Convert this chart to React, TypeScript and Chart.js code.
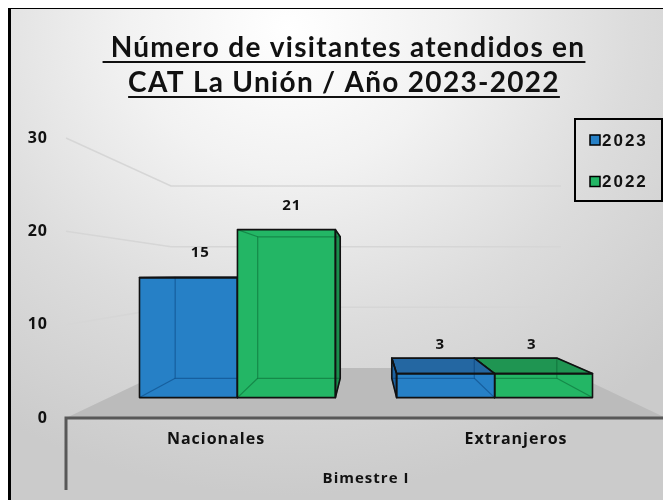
import React, { useEffect, useRef } from "react";
import { Chart, registerables } from "chart.js";

Chart.register(...registerables);

// ---- data ----
const categories = ["Nacionales", "Extranjeros"];
const groupLabel = "Bimestre I";
const seriesNames = ["2023", "2022"];
const values2023 = [15, 3];
const values2022 = [21, 3];
const yMin = 0;
const yMax = 30;
const yStep = 10;
const titleLines = [" Número de visitantes atendidos en", "CAT La Unión / Año 2023-2022"];

// ---- style ----
const FRONT = ["#2680c6", "#23b665"];
const TOP = ["#2467a2", "#1f9552"];
const SIDE = ["#1d62a0", "#1b8c4c"];
const INNER = ["rgba(5,55,110,0.45)", "rgba(5,85,40,0.45)"];
const TITLE_FONT = "Lato, 'Open Sans', sans-serif";
const GEO = "'Open Sans', Lato, sans-serif";
const EYE = 15.3; // eye level, in axis units
const BACK = 0.65; // depth scale of back wall
const BAR_FRONT = 0.857;
const BAR_BACK = 0.722;
const LABEL_DEPTH_X = 0.8;
const LABEL_DEPTH_Y = 0.827;

type Pt = [number, number];

const scene3d = {
  id: "scene3d",
  beforeDraw(chart: any) {
    chart.ctx.letterSpacing = "1px";
  },
  beforeDatasetsDraw(chart: any) {
    const { ctx, chartArea: ca, scales } = chart;
    const y = scales.y;
    const vx = (ca.left + ca.right) / 2;
    const vy = y.getPixelForValue(EYE);
    const P = (px: number, py: number, s: number): Pt => [vx + (px - vx) * s, vy + (py - vy) * s];
    const y0 = y.getPixelForValue(0);
    ctx.save();
    // walls gridlines
    ctx.strokeStyle = "#d6d6d6";
    ctx.lineWidth = 1.5;
    for (const t of y.ticks) {
      if (t.value <= 0) continue;
      const py = y.getPixelForValue(t.value);
      const a = P(ca.left, py, BACK);
      const b = P(ca.right, py, BACK);
      ctx.beginPath();
      ctx.moveTo(ca.left, py);
      ctx.lineTo(a[0], a[1]);
      ctx.lineTo(b[0], b[1]);
      ctx.stroke();
    }
    // floor
    const bl = P(ca.left, y0, BACK);
    const br = P(ca.right, y0, BACK);
    ctx.fillStyle = "#bbbbbb";
    ctx.beginPath();
    ctx.moveTo(ca.left, y0);
    ctx.lineTo(ca.right, y0);
    ctx.lineTo(br[0], br[1]);
    ctx.lineTo(bl[0], bl[1]);
    ctx.closePath();
    ctx.fill();
    // axis line and category frame
    ctx.strokeStyle = "#585858";
    ctx.lineWidth = 3;
    ctx.beginPath();
    ctx.moveTo(ca.left, y0 + 72);
    ctx.lineTo(ca.left, y0);
    ctx.lineTo(ca.right, y0);
    ctx.lineTo(ca.right, y0 + 72);
    ctx.stroke();
    ctx.restore();
  },
  afterDatasetsDraw(chart: any) {
    const { ctx, chartArea: ca, scales } = chart;
    const y = scales.y;
    const vx = (ca.left + ca.right) / 2;
    const vy = y.getPixelForValue(EYE);
    const P = (px: number, py: number, s: number): Pt => [vx + (px - vx) * s, vy + (py - vy) * s];
    const boxes: any[] = [];
    chart.data.datasets.forEach((ds: any, di: number) => {
      const meta = chart.getDatasetMeta(di);
      meta.data.forEach((el: any, i: number) => {
        const p = el.getProps(["x", "y", "base", "width"], true);
        boxes.push({ di, i, x1: p.x - p.width / 2, x2: p.x + p.width / 2, cx: p.x, yt: p.y, yb: p.base, v: ds.data[i] });
      });
    });
    boxes.sort((a, b) => Math.abs(b.cx - vx) - Math.abs(a.cx - vx));
    const poly = (pts: Pt[]) => {
      ctx.beginPath();
      ctx.moveTo(pts[0][0], pts[0][1]);
      for (let k = 1; k < pts.length; k++) ctx.lineTo(pts[k][0], pts[k][1]);
      ctx.closePath();
    };
    ctx.save();
    for (const b of boxes) {
      const FLt = P(b.x1, b.yt, BAR_FRONT), FRt = P(b.x2, b.yt, BAR_FRONT);
      const FLb = P(b.x1, b.yb, BAR_FRONT), FRb = P(b.x2, b.yb, BAR_FRONT);
      const BLt = P(b.x1, b.yt, BAR_BACK), BRt = P(b.x2, b.yt, BAR_BACK);
      const BLb = P(b.x1, b.yb, BAR_BACK), BRb = P(b.x2, b.yb, BAR_BACK);
      const leftOfCenter = b.cx < vx;
      const side: Pt[] = leftOfCenter ? [FRt, BRt, BRb, FRb] : [FLt, BLt, BLb, FLb];
      const top: Pt[] = [FLt, FRt, BRt, BLt];
      ctx.lineJoin = "round";
      ctx.fillStyle = SIDE[b.di];
      poly(side);
      ctx.fill();
      ctx.fillStyle = TOP[b.di];
      poly(top);
      ctx.fill();
      ctx.fillStyle = FRONT[b.di];
      poly([FLt, FRt, FRb, FLb]);
      ctx.fill();
      // back edges seen through the faces
      ctx.strokeStyle = INNER[b.di];
      ctx.lineWidth = 1.2;
      poly([BLt, BRt, BRb, BLb]);
      ctx.stroke();
      ctx.beginPath();
      ctx.moveTo(FLt[0], FLt[1]); ctx.lineTo(BLt[0], BLt[1]);
      ctx.moveTo(FRt[0], FRt[1]); ctx.lineTo(BRt[0], BRt[1]);
      ctx.moveTo(FLb[0], FLb[1]); ctx.lineTo(BLb[0], BLb[1]);
      ctx.moveTo(FRb[0], FRb[1]); ctx.lineTo(BRb[0], BRb[1]);
      ctx.stroke();
      // outlines
      ctx.strokeStyle = "#111";
      ctx.lineWidth = 1.6;
      poly([FLt, FRt, FRb, FLb]);
      ctx.stroke();
      if (BLt[1] < FLt[1]) {
        poly(top);
        ctx.stroke();
      }
      poly(side);
      ctx.stroke();
    }
    // value labels
    ctx.fillStyle = "#111";
    ctx.font = `bold 15px ${GEO}`;
    ctx.letterSpacing = "1px";
    ctx.textAlign = "center";
    ctx.textBaseline = "middle";
    for (const b of boxes) {
      const lx = P(b.cx, b.yt, LABEL_DEPTH_X)[0];
      const ly = P(b.cx, b.yt, LABEL_DEPTH_Y)[1];
      ctx.fillText(String(b.v), lx, ly - 25);
    }
    ctx.restore();
  },
  afterDraw(chart: any) {
    const { ctx } = chart;
    ctx.save();
    // title
    ctx.fillStyle = "#111";
    ctx.strokeStyle = "#111";
    ctx.font = `bold 28px ${TITLE_FONT}`;
    ctx.letterSpacing = "1.3px";
    ctx.textAlign = "center";
    ctx.textBaseline = "alphabetic";
    const cx = 333;
    const baselines = [48, 83];
    titleLines.forEach((line, k) => {
      ctx.fillText(line, cx, baselines[k]);
      const w = ctx.measureText(line).width;
      ctx.lineWidth = 2;
      ctx.beginPath();
      ctx.moveTo(cx - w / 2, baselines[k] + 5);
      ctx.lineTo(cx + w / 2, baselines[k] + 5);
      ctx.stroke();
    });
    // legend
    const lx = 564, ly = 110, lw = 87, lh = 82;
    ctx.lineWidth = 2;
    ctx.strokeStyle = "#000";
    ctx.strokeRect(lx, ly, lw, lh);
    ctx.font = "bold 17px 'Liberation Sans', Arial, sans-serif";
    ctx.letterSpacing = "2px";
    ctx.textAlign = "left";
    ctx.textBaseline = "middle";
    chart.data.datasets.forEach((ds: any, k: number) => {
      const ry = ly + 21 + k * 41.5;
      ctx.fillStyle = FRONT[k];
      ctx.fillRect(lx + 15, ry - 5, 10, 10);
      ctx.lineWidth = 1.5;
      ctx.strokeStyle = "#000";
      ctx.strokeRect(lx + 15, ry - 5, 10, 10);
      ctx.fillStyle = "#111";
      ctx.fillText(ds.label, lx + 27, ry + 1);
    });
    ctx.restore();
  },
};

export default function App() {
  const ref = useRef<HTMLCanvasElement | null>(null);
  useEffect(() => {
    if (!ref.current) return;
    const chart = new Chart(ref.current, {
      type: "bar",
      data: {
        labels: categories,
        datasets: [
          { label: seriesNames[0], data: values2023, backgroundColor: "rgba(0,0,0,0)", borderWidth: 0, categoryPercentage: 0.762, barPercentage: 1 },
          { label: seriesNames[1], data: values2022, backgroundColor: "rgba(0,0,0,0)", borderWidth: 0, categoryPercentage: 0.762, barPercentage: 1 },
        ],
      },
      options: {
        responsive: false,
        animation: false,
        events: [],
        layout: { padding: { left: 11, right: 5, top: 129, bottom: 0 } },
        plugins: { legend: { display: false }, tooltip: { enabled: false }, title: { display: false } },
        scales: {
          x: {
            offset: true,
            grid: { display: false, drawTicks: false },
            border: { display: false },
            ticks: { color: "#111", padding: 12, font: { family: GEO, weight: "bold", size: 16 } },
            title: { display: true, text: groupLabel, color: "#111", padding: { top: 0, bottom: 12 }, font: { family: GEO, weight: "bold", size: 15 } },
            afterFit: (s: any) => { s.height = 82; },
          },
          y: {
            min: yMin,
            max: yMax,
            grid: { display: false, drawTicks: false },
            border: { display: false },
            ticks: { stepSize: yStep, color: "#111", padding: 18, font: { family: GEO, weight: "bold", size: 16 } },
            afterFit: (s: any) => { s.width = 44; },
          },
        },
      },
      plugins: [scene3d],
    });
    return () => chart.destroy();
  }, []);
  return (
    <div
      style={{
        marginTop: -2,
        width: 660,
        height: 491,
        borderLeft: "3px solid #000",
        borderTop: "3px solid #000",
        background: "radial-gradient(ellipse 80% 95% at 42% 4%, #ffffff 0%, #f2f2f2 30%, #dcdcdc 65%, #cbcbcb 100%)",
      }}
    >
      <canvas ref={ref} width={660} height={491} style={{ display: "block" }} />
    </div>
  );
}
